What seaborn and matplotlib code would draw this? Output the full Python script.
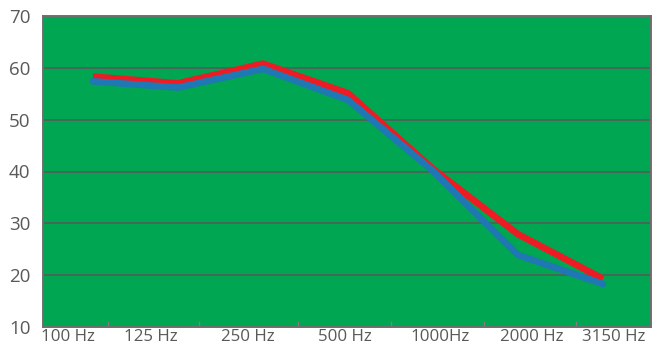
import numpy as np
import pandas as pd
import matplotlib
matplotlib.use("Agg")
import matplotlib.pyplot as plt
import seaborn as sns

# --- data ---
freqs = ["100 Hz", "125 Hz", "250 Hz", "500 Hz", "1000Hz", "2000 Hz", "3150 Hz"]
red_vals = [58.3, 57.0, 60.8, 55.1, 40.5, 27.9, 19.3]
blue_vals = [57.4, 56.2, 59.8, 53.8, 40.1, 23.9, 18.3]

sns.set_theme(style="white")
plt.rcParams["font.family"] = ["Open Sans", "DejaVu Sans"]

df = pd.DataFrame({
    "pos": np.arange(len(freqs)),
    "red": red_vals,
    "blue": blue_vals,
})

fig = plt.figure(figsize=(6.53, 3.45), dpi=100)
ax = fig.add_axes([43 / 653, 18 / 345, 608 / 653, 311 / 345])
ax.set_facecolor("#00A651")

sns.lineplot(data=df, x="pos", y="red", ax=ax, color="#ED1C24", lw=4.8,
             solid_capstyle="butt", zorder=3)
sns.lineplot(data=df, x="pos", y="blue", ax=ax, color="#1F77B4", lw=4.8,
             solid_capstyle="round", zorder=4)

# category axis: the band ticks and labels don't line up with the points
xlim = (-0.588, 6.565)
bounds = [0.176, 1.247, 2.412, 3.506, 4.6, 5.682]
label_pos = [-0.294, 0.682, 1.824, 2.965, 4.082, 5.165, 6.129]

ax.set_xlim(*xlim)
ax.set_ylim(10, 70)
ax.set_yticks(range(10, 71, 10))
ax.set_xticks(bounds)
ax.set_xticklabels([""] * len(bounds))
ax.set_xticks(label_pos, minor=True)
ax.set_xticklabels(freqs, minor=True)
ax.tick_params(axis="x", which="major", direction="in", length=4, width=1,
               color="#7f7f7f", bottom=True)
ax.tick_params(axis="x", which="minor", length=0, pad=1.5,
               labelsize=12.2, labelcolor="#595959")
ax.tick_params(axis="y", length=0, pad=9, labelsize=13.5, labelcolor="#595959")

for y in range(20, 70, 10):
    ax.axhline(y, color="#595959", lw=1.1, zorder=1)

for s in ax.spines.values():
    s.set_visible(True)
    s.set_color("#6f6f6f")
    s.set_linewidth(1.4)

ax.set_xlabel("")
ax.set_ylabel("")
fig.savefig("out.png", dpi=100)
